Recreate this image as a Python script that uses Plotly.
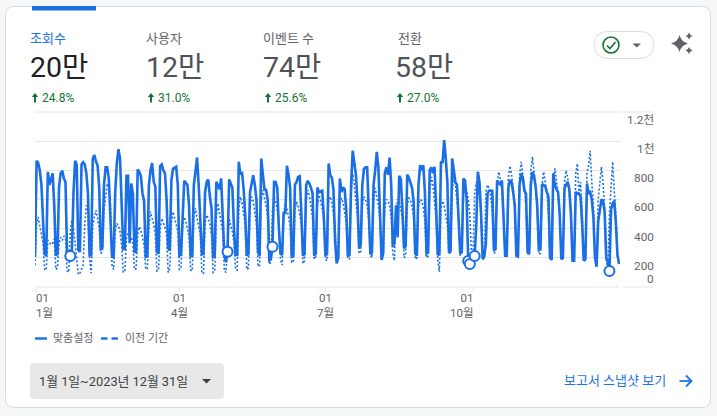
import pandas as pd
import plotly.graph_objects as go

W, H = 717, 416
BLUE = "#1a6fe6"
GREY = "#5f6368"
GREEN = "#137333"
GRID = "#e3e5e8"

# Weekly rows: Sunday ... Saturday
current_weeks = [
    [208,865,850,800,700,480,225],[215,790,700,740,780,560,215],[225,690,780,797,744,720,230],
    [215,212,250,650,865,840,253],[240,840,855,840,780,640,220],[220,880,905,860,835,687,265],
    [270,700,820,820,744,520,208],[205,650,850,945,880,620,260],[262,762,762,300,710,640,240],
    [240,805,790,760,640,590,208],[210,700,800,850,720,690,240],[230,830,840,800,780,600,265],
    [250,730,810,815,824,700,215],[220,500,728,715,700,560,210],[215,700,790,888,700,500,225],
    [225,650,720,737,620,540,205],[210,722,700,670,745,450,220],[170,242,737,710,680,400,220],
    [220,858,770,790,675,500,215],[225,650,720,767,700,600,240],[215,881,790,670,665,600,185],
    [190,276,721,720,680,400,230],[220,516,500,831,770,680,210],[215,700,720,755,760,500,215],
    [225,700,728,710,680,640,215],[230,682,650,655,660,480,215],[225,847,767,750,670,320,162],
    [200,744,650,683,670,520,210],[220,700,934,850,770,580,265],[290,700,810,820,820,520,225],
    [235,700,800,927,820,500,185],[230,780,820,770,888,700,275],[300,560,340,762,740,520,265],
    [280,771,750,720,680,580,230],[215,700,835,800,835,650,230],[235,800,820,780,824,540,220],
    [230,860,850,1007,880,720,235],[245,881,800,720,700,500,230],[240,744,730,600,178,157,160],
    [170,212,420,790,720,500,190],[210,300,640,660,660,660,253],[260,730,710,700,730,420,215],
    [215,680,733,720,650,560,215],[210,700,778,750,660,640,240],[230,700,790,760,690,560,260],
    [265,705,700,690,650,620,200],[185,778,700,670,650,500,190],[200,680,700,721,670,500,180],
    [180,653,640,640,620,430,180],[190,710,640,650,600,480,200],[139,450,540,600,590,520,200],
    [170,110,530,573,590,440,220],
]
current_last = [157]

previous_weeks = [
    [150,430,480,420,360,300,120],[115,320,300,290,300,330,120],[130,300,340,320,350,330,110],
    [100,380,460,400,300,180,85],[95,120,150,430,560,520,200],[95,420,480,527,470,400,230],
    [240,520,620,710,680,560,150],[120,380,436,420,380,280,100],[110,340,368,350,340,300,120],
    [125,360,413,390,340,280,130],[120,420,516,470,430,350,110],[115,400,470,440,410,360,100],
    [130,440,516,480,430,380,120],[125,420,480,450,400,340,115],[110,480,540,470,420,360,105],
    [90,440,493,470,430,360,100],[105,480,573,510,470,380,110],[100,300,470,420,380,300,120],
    [115,540,618,580,500,430,120],[130,560,618,590,520,430,140],[150,600,665,610,560,480,155],
    [170,540,618,590,530,440,190],[150,500,573,540,490,420,170],[170,530,584,550,500,430,160],
    [180,600,665,620,560,470,190],[210,560,630,590,530,470,190],[180,600,620,580,510,420,170],
    [180,570,610,580,520,440,200],[190,640,778,700,610,480,230],[240,560,620,600,560,460,220],
    [200,590,680,620,560,460,190],[210,540,600,590,560,470,230],[180,520,600,590,540,470,200],
    [220,560,610,600,550,470,190],[200,560,600,590,540,450,200],[210,640,755,700,600,470,190],
    [105,540,590,560,500,420,230],[240,640,760,700,600,480,220],[225,620,700,660,600,500,220],
    [230,640,720,690,620,500,200],[210,650,700,680,620,500,230],[240,700,790,740,660,520,210],
    [215,750,830,770,680,540,210],[215,760,858,790,690,540,220],[225,800,893,800,690,520,225],
    [230,700,790,730,650,500,195],[200,720,813,740,640,500,200],[210,720,800,750,640,500,190],
    [190,780,847,640,720,520,190],[190,780,835,934,720,560,190],[170,600,700,824,720,530,190],
    [120,500,700,858,660,500,210],
]
previous_last = [160]

holiday_dates = ["2023-01-23","2023-05-01","2023-05-29","2023-09-28","2023-09-29","2023-10-02","2023-12-25"]

metric_names = ["조회수","사용자","이벤트 수","전환"]
metric_values = ["20만","12만","74만","58만"]
metric_changes = ["24.8%","31.0%","25.6%","27.0%"]

y_ticks = [0,200,400,600,800,1000,1200]
y_labels = ["0","200","400","600","800","1천","1.2천"]
x_ticks = ["2023-01-01","2023-04-01","2023-07-01","2023-10-01"]
x_days = ["01","01","01","01"]
x_months = ["1월","4월","7월","10월"]

current = [v for w in current_weeks for v in w] + current_last
previous = [v for w in previous_weeks for v in w] + previous_last
dates = pd.date_range("2023-01-01", periods=len(current), freq="D")
by_date = dict(zip(dates.strftime("%Y-%m-%d"), current))
holiday_values = [by_date[d] for d in holiday_dates]

def px(x): return x / W
def py(y): return 1 - y / H
def P(*pts):
    return " ".join(f"{px(p[0]):.5f},{py(p[1]):.5f}" for p in pts)
def rrect(x0, y0, x1, y1, r):
    return ("M" + P((x0+r,y0)) + " L" + P((x1-r,y0)) + " Q" + P((x1,y0),(x1,y0+r)) +
            " L" + P((x1,y1-r)) + " Q" + P((x1,y1),(x1-r,y1)) + " L" + P((x0+r,y1)) +
            " Q" + P((x0,y1),(x0,y1-r)) + " L" + P((x0,y0+r)) + " Q" + P((x0,y0),(x0+r,y0)) + " Z")
def poly(*pts):
    return "M" + " L".join(P(p) for p in pts) + " Z"
def line(*pts):
    return "M" + " L".join(P(p) for p in pts)
def star(cx, cy, r):
    k = r * 0.2
    return ("M" + P((cx,cy-r)) + " Q" + P((cx+k,cy-k),(cx+r,cy)) + " Q" + P((cx+k,cy+k),(cx,cy+r)) +
            " Q" + P((cx-k,cy+k),(cx-r,cy)) + " Q" + P((cx-k,cy-k),(cx,cy-r)) + " Z")

shapes, ann = [], []
def path(d, fill=None, color=None, width=0, dash=None, layer="below"):
    shapes.append(dict(type="path", xref="paper", yref="paper", path=d, layer=layer,
                       fillcolor=fill or "rgba(0,0,0,0)",
                       line=dict(color=color or "rgba(0,0,0,0)", width=width, dash=dash or "solid")))
def text(x, y, s, size=12, color=GREY, anchor="left", weight=None):
    ann.append(dict(x=px(x), y=py(y), xref="paper", yref="paper", text=s, showarrow=False,
                    xanchor=anchor, yanchor="middle", align=anchor, borderpad=0,
                    font=dict(size=size, color=color, weight=weight)))

# card
path(rrect(5.5, 6.5, 710.5, 407.5, 9), fill="#ffffff", color="#d9dbe0", width=1)
path(poly((32,6),(96,6),(96,10.5),(32,10.5)), fill="#1a6fe0")

# metric header
name_x = [29,145,262,397]
value_x = [29,145,262,393.5]
change_x = [30,146,263,395]
value_colors = ["#202124","#4f5357","#4f5357","#4f5357"]
for i in range(4):
    text(name_x[i], 38.5, metric_names[i], 13, "#1a73e8" if i == 0 else GREY)
    text(value_x[i], 68, metric_values[i], 28.5, value_colors[i])
    ax = change_x[i] + 5
    path(poly((ax,93),(ax+3.2,97),(ax+1,97),(ax+1,102.5),(ax-1,102.5),(ax-1,97),(ax-3.2,97)), fill=GREEN)
    text(change_x[i]+11, 98, metric_changes[i], 12, GREEN)

# pill, check icon, sparkle
path(rrect(594.5, 31.5, 653.5, 58.5, 13.5), fill="#ffffff", color="#dadce0", width=1)
shapes.append(dict(type="circle", xref="paper", yref="paper", x0=px(603), x1=px(619), y0=py(53), y1=py(37),
                   layer="below", line=dict(color=GREEN, width=1.6), fillcolor="#ffffff"))
path(line((607,45.5),(610,48.5),(615.5,42)), color=GREEN, width=1.6)
path(poly((632.5,43.5),(641,43.5),(636.75,47.5)), fill=GREY)
path(star(679.5,43.5,8.5), fill=GREY)
path(star(689,36,3.6), fill=GREY)
path(star(689,50.5,3.6), fill=GREY)

# top and bottom rules, which the axis grid leaves out at its ends
for yy in (112, 287):
    path(line((35,yy),(619.5,yy)), color=GRID, width=1)
    path(line((623,yy),(653,yy)), color=GRID, width=1)

# legend
path(line((35,338.5),(47,338.5)), color=BLUE, width=2.4)
path(line((101,338.5),(107.5,338.5)), color=BLUE, width=2.4)
path(line((111.5,338.5),(118,338.5)), color=BLUE, width=2.4)
text(52, 338, "맞춤설정", 11, GREY)
text(124, 338, "이전 기간", 11, GREY)

# date button and link
path(rrect(30,363,224,399,4), fill="#e8e8e8")
text(37.5, 381, "1월 1일~2023년 12월 31일", 12.8, "#3c4043")
path(poly((202,379),(211,379),(206.5,383.5)), fill="#3c4043")
text(562.5, 380.5, "보고서 스냅샷 보기", 13, "#1a73e8")
path(line((679.5,381),(691,381)), color="#1a73e8", width=1.8)
path(line((686,375.5),(691.5,381),(686,386.5)), color="#1a73e8", width=1.8)

# y tick labels
y_shift = [8,-8,-8,-8,-8,-8,-8]
for v, lab, s in zip(y_ticks, y_labels, y_shift):
    ann.append(dict(x=px(655), y=v, xref="paper", yref="y", text=lab, showarrow=False, xanchor="right",
                    yanchor="middle", yshift=s, borderpad=0, font=dict(size=11.8, color=GREY)))
# x tick labels
x_anchor = ["left","center","center","right"]
x_offset = [0,0,0,2]
for d, day, mon, a, o in zip(x_ticks, x_days, x_months, x_anchor, x_offset):
    ann.append(dict(x=d, y=py(305), xref="x", yref="paper", text=f"{day}<br>{mon}", showarrow=False,
                    xanchor=a, yanchor="middle", align=a, xshift=o, borderpad=0,
                    font=dict(size=11.5, color=GREY)))

fig = go.Figure()
fig.add_trace(go.Scatter(x=dates, y=previous, mode="lines", name="이전 기간",
                         line=dict(color=BLUE, width=1.6, dash="2px,2px"), hoverinfo="skip"))
fig.add_trace(go.Scatter(x=dates, y=current, mode="lines", name="맞춤설정",
                         line=dict(color=BLUE, width=2.6), hoverinfo="skip"))
fig.add_trace(go.Scatter(x=pd.to_datetime(holiday_dates), y=holiday_values, mode="markers", name="공휴일",
                         marker=dict(size=10, color="#ffffff", line=dict(color=BLUE, width=2)),
                         hoverinfo="skip", cliponaxis=False))

fig.update_layout(
    width=W, height=H, autosize=False, margin=dict(l=0, r=0, t=0, b=0),
    paper_bgcolor="#f6f7f9", plot_bgcolor="rgba(0,0,0,0)", showlegend=False,
    font=dict(family="Roboto, 'Noto Sans CJK KR', sans-serif"),
    shapes=shapes, annotations=ann,
    xaxis=dict(domain=[px(35), px(620)], type="date", range=["2023-01-01", "2023-12-31 14:00"],
               tickmode="array", tickvals=x_ticks, ticktext=["", "", "", ""], ticks="outside", ticklen=4,
               tickcolor=GRID, tickwidth=1, showgrid=False, zeroline=False, showline=False),
    yaxis=dict(domain=[py(287), py(112)], range=[0, 1200], tickmode="array", tickvals=y_ticks,
               showticklabels=False, gridcolor=GRID, gridwidth=1, zeroline=False, showline=False),
)
fig.write_html("out.html", config={"displayModeBar": False},
               post_script="document.body.style.margin='0';document.documentElement.style.overflow='hidden';")
